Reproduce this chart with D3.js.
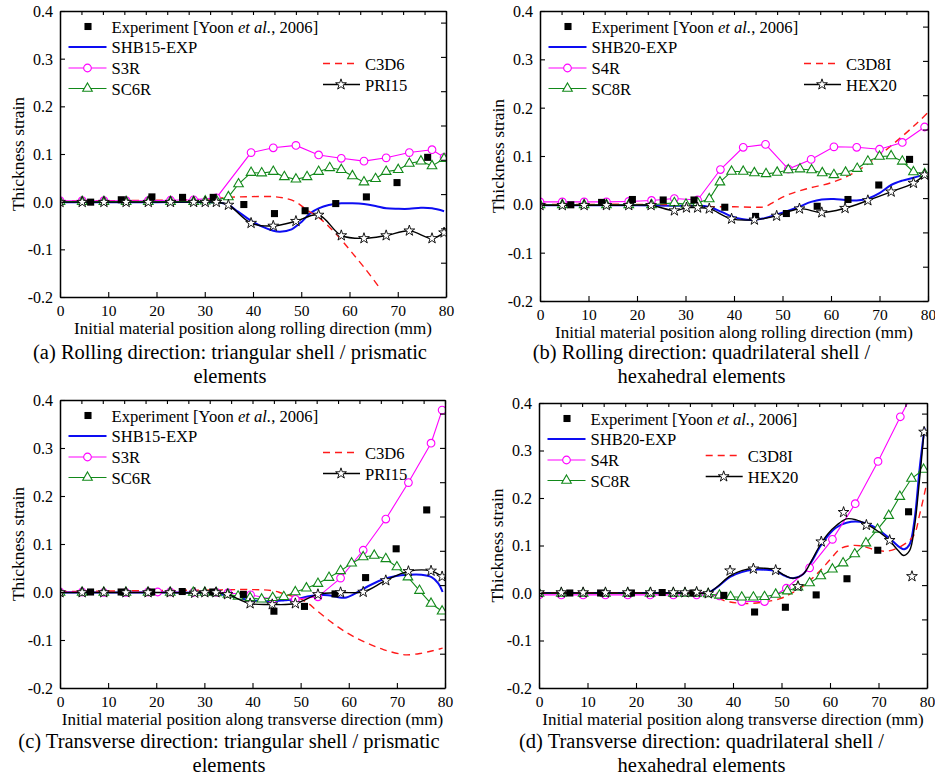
<!DOCTYPE html>
<html><head><meta charset="utf-8">
<script src="https://cdn.jsdelivr.net/npm/d3@7"></script>
<style>
body{margin:0;background:#fff}
svg{display:block}
text{font-family:"Liberation Serif","Times New Roman",serif;fill:#000}
</style>
</head><body>
<svg id="chart" width="935" height="778"></svg>
<script>
// ---------------- DATA ----------------
const xTicks = [0,10,20,30,40,50,60,70,80];
const yTicks = [-0.2,-0.1,0.0,0.1,0.2,0.3,0.4];

const expX = [6.35,12.7,19.05,25.4,31.75,38.1,44.45,50.8,57.15,63.5,69.85,76.2];
const expRolling = [-0.001,0.004,0.01,0.009,0.009,-0.006,-0.025,-0.019,-0.004,0.01,0.04,0.093];
const expTransverse = [0.0,0.0,0.0,0.001,0.0,-0.005,-0.04,-0.03,-0.004,0.03,0.09,0.171];

const namesTri = ["SHB15-EXP","S3R","SC6R","C3D6","PRI15"];
const namesQuad = ["SHB20-EXP","S4R","SC8R","C3D8I","HEX20"];
const expLabel = ["Experiment [Yoon ","et al.",", 2006]"];

// (a) rolling, triangular / prismatic
const a_SHB15 = [[0,-0.001],[10,-0.001],[20,-0.001],[30,-0.001],[33,-0.002],[34.9,-0.007],[36.9,-0.021],[39.6,-0.040],[41.8,-0.052],[44.2,-0.061],[45.6,-0.063],[48,-0.058],[50.1,-0.042],[51.9,-0.024],[53.6,-0.014],[55.7,-0.007],[58.3,-0.0035],[60.6,-0.0035],[63,-0.005],[65.4,-0.009],[67.6,-0.014],[70.1,-0.015],[72.4,-0.015],[74.8,-0.013],[77.1,-0.014],[79.6,-0.020]];
const a_S3R = [[0,0.002],[4.6,0.002],[9.1,0.002],[13.7,0.002],[18.3,0.002],[22.9,0.003],[27.7,0.004],[32.4,0.008],[39.6,0.103],[44.2,0.113],[48.9,0.118],[53.6,0.098],[58.3,0.091],[63.0,0.085],[67.6,0.092],[72.4,0.103],[77.1,0.109],[79.6,0.093]];
const a_SC6R = [[0,0],[4.6,0],[9.1,0],[13.7,0],[18.3,0],[22.9,0],[27.7,0],[30.1,0.001],[32.4,0.003],[34.9,0.01],[37.0,0.037],[39.6,0.061],[41.8,0.060],[44.2,0.063],[46.5,0.052],[48.9,0.047],[51.2,0.052],[53.6,0.063],[55.9,0.071],[58.3,0.067],[60.6,0.054],[63.0,0.041],[65.4,0.048],[67.6,0.063],[70.1,0.067],[72.4,0.080],[74.8,0.085],[77.1,0.075],[79.6,0.090]];
const a_C3D6 = [[0,0.001],[10,0.002],[20,0.003],[30,0.005],[34.9,0.009],[39.6,0.0105],[44.2,0.0105],[46.7,0.007],[48.75,0.0],[51.2,-0.0175],[53.6,-0.033],[55.7,-0.052],[58.3,-0.080],[60.6,-0.108],[63.2,-0.140],[66.1,-0.179]];
const a_PRI15 = [[0,-0.001],[4.6,-0.001],[9.1,-0.001],[13.7,-0.001],[18.3,-0.001],[22.9,-0.001],[27.7,-0.001],[30.1,-0.001],[32.4,-0.001],[34.9,-0.007],[39.6,-0.045],[44.2,-0.051],[48.9,-0.041],[53.6,-0.028],[58.3,-0.071],[63.0,-0.077],[67.6,-0.071],[72.4,-0.061],[77.1,-0.077],[79.6,-0.065]];

// (b) rolling, quadrilateral / hexahedral
const b_SHB20 = [[0,-0.002],[10,-0.002],[20,-0.002],[27,-0.003],[32,-0.003],[34.7,-0.005],[37.3,-0.015],[39.5,-0.025],[41.9,-0.031],[44.2,-0.032],[46.5,-0.028],[48.8,-0.021],[51.2,-0.013],[53.4,-0.005],[55.9,0.005],[58.1,0.010],[60.6,0.011],[62.9,0.009],[65.3,0.008],[67.7,0.012],[70.0,0.023],[72.4,0.040],[74.7,0.049],[77.0,0.055],[79.3,0.062]];
const b_S4R = [[0,0.005],[4.6,0.005],[9.1,0.005],[13.7,0.005],[18.3,0.006],[23,0.008],[27.7,0.012],[32.5,0.009],[37.2,0.072],[41.9,0.118],[46.5,0.124],[51.2,0.073],[55.9,0.093],[60.6,0.119],[65.3,0.118],[70.0,0.114],[74.7,0.128],[79.3,0.160]];
const b_SC8R = [[0,-0.001],[4.6,-0.001],[9.1,-0.001],[13.7,-0.001],[18.3,-0.001],[23,-0.001],[27.7,0.003],[30.1,0.0],[32.5,0.003],[34.9,0.011],[37.1,0.046],[39.5,0.068],[41.9,0.068],[44.2,0.065],[46.6,0.063],[48.9,0.066],[51.2,0.071],[53.6,0.073],[56.0,0.071],[58.2,0.065],[60.6,0.061],[63.0,0.066],[65.4,0.074],[67.6,0.089],[70.0,0.099],[72.4,0.100],[74.7,0.089],[77.0,0.067],[79.3,0.063]];
const b_C3D8I = [[0,0.0],[10,0.0],[20,0.0],[28,-0.001],[32,-0.003],[35,-0.005],[40,-0.005],[45,-0.006],[46.4,-0.005],[48.4,0.006],[51.2,0.02],[55.3,0.033],[60.1,0.045],[64.9,0.066],[69,0.094],[73.2,0.128],[77.3,0.164],[80,0.19]];
const b_HEX20 = [[0,-0.002],[4.6,-0.002],[9.1,-0.002],[13.7,-0.002],[18.3,-0.002],[22.9,-0.002],[27.7,-0.013],[30.2,-0.007],[32.5,-0.007],[34.9,-0.009],[39.5,-0.030],[44.2,-0.032],[48.8,-0.024],[53.5,-0.009],[58.1,-0.017],[62.9,-0.008],[67.6,0.008],[72.4,0.026],[77.0,0.044],[79.3,0.061]];

// (c) transverse, triangular / prismatic
const c_SHB15 = [[0,-0.001],[10,-0.001],[20,-0.001],[30,-0.002],[34.8,-0.007],[37,-0.012],[39.5,-0.017],[44.1,-0.019],[46.7,-0.017],[48.9,-0.015],[51.2,-0.010],[53.6,-0.006],[55.7,-0.007],[57.8,-0.011],[59.2,-0.012],[61.2,-0.004],[64,0.012],[66.8,0.025],[69.6,0.033],[72.4,0.036],[75.1,0.036],[77.2,0.031],[78.6,0.018],[79.5,0.0]];
const c_S3R = [[0,0],[4.6,0],[9.1,-0.001],[13.7,-0.001],[18.3,0],[20.3,0],[22.9,0],[27.7,-0.001],[32.5,-0.001],[34.9,-0.002],[39.6,-0.006],[44.2,-0.015],[48.9,-0.015],[53.6,-0.010],[58.3,0.029],[63.0,0.087],[67.7,0.152],[72.4,0.228],[77.1,0.310],[79.4,0.379]];
const c_SC6R = [[0,-0.001],[4.6,-0.001],[9.1,-0.001],[13.7,-0.001],[18.3,-0.001],[22.9,-0.001],[27.7,-0.001],[30.1,-0.001],[32.5,-0.002],[34.9,-0.005],[37.0,-0.009],[39.5,-0.012],[41.9,-0.015],[44.2,-0.012],[46.5,-0.010],[48.9,0.0],[51.2,0.008],[53.6,0.0175],[55.9,0.030],[58.3,0.044],[60.6,0.060],[63.0,0.073],[65.3,0.076],[67.7,0.069],[70.0,0.052],[72.3,0.031],[74.7,0.003],[77.1,-0.024],[79.4,-0.040]];
const c_C3D6 = [[0,0.001],[10,0.002],[20,0.003],[30,0.004],[40,0.005],[44,0.003],[46,-0.002],[48,-0.008],[49.9,-0.014],[51.6,-0.024],[53.3,-0.038],[56.8,-0.066],[60.3,-0.089],[63.7,-0.106],[67.2,-0.120],[70.6,-0.129],[72.0,-0.131],[74.8,-0.128],[77.6,-0.122],[79.5,-0.117]];
const c_PRI15 = [[0,-0.001],[4.6,-0.001],[9.1,-0.001],[13.7,-0.001],[18.3,-0.001],[22.9,-0.001],[28.0,-0.002],[30.1,-0.001],[32.4,-0.001],[34.8,-0.005],[39.5,-0.024],[44.1,-0.026],[48.9,-0.024],[53.6,-0.005],[58.3,-0.001],[63.0,0.0],[67.7,0.024],[72.4,0.043],[77.1,0.044],[79.4,0.032]];

// (d) transverse, quadrilateral / hexahedral
const d_SHB20 = [[0,0],[10,0],[20,0],[30,0],[34.9,0.001],[36.6,0.011],[39.4,0.034],[41.8,0.044],[44.2,0.049],[46.5,0.049],[48.8,0.046],[50.7,0.036],[52.4,0.031],[54.5,0.040],[56.2,0.066],[57.9,0.097],[59.6,0.121],[61.3,0.138],[63.4,0.148],[66.1,0.150],[68.8,0.141],[72.3,0.115],[74.4,0.096],[75.3,0.092],[76.4,0.102],[77.4,0.152],[78.5,0.264],[79.5,0.348]];
const d_S4R = [[0,-0.004],[4.6,-0.004],[9.1,-0.004],[13.7,-0.004],[18.3,-0.004],[22.9,-0.004],[27.7,-0.004],[32.5,-0.004],[37.2,-0.006],[41.8,-0.018],[46.5,-0.018],[51.0,0.010],[55.8,0.053],[60.5,0.113],[65.2,0.188],[69.9,0.277],[74.5,0.371],[79.3,0.464]];
const d_SC8R = [[0,-0.001],[4.6,-0.001],[9.1,-0.001],[13.7,-0.001],[18.3,-0.001],[22.9,-0.001],[27.7,-0.001],[30.1,-0.001],[32.5,-0.001],[34.9,-0.002],[37.2,-0.005],[39.5,-0.008],[41.8,-0.009],[44.2,-0.009],[46.5,-0.008],[48.8,-0.003],[51.2,0.004],[53.4,0.012],[55.8,0.021],[58.1,0.036],[60.5,0.050],[62.7,0.063],[65.1,0.082],[67.4,0.105],[69.8,0.134],[72.1,0.163],[74.4,0.203],[76.8,0.241],[79.3,0.260]];
const d_C3D8I = [[0,0],[10,0],[20,0],[30,0],[34.9,-0.002],[37.3,-0.013],[39.4,-0.019],[42.8,-0.022],[46.3,-0.019],[49.7,-0.012],[51.8,-0.002],[54.5,0.015],[57.3,0.040],[60,0.070],[62.1,0.093],[64.5,0.100],[66.5,0.099],[68.9,0.092],[71.7,0.088],[74.4,0.097],[77.2,0.120],[78.5,0.166],[79.9,0.229]];
const d_HEX20line = [[0,0],[10,0],[20,0],[30,0],[34.9,0.001],[36.6,0.012],[39.4,0.036],[41.8,0.047],[44.2,0.052],[46.5,0.052],[48.8,0.048],[50.7,0.037],[52.4,0.031],[54.5,0.040],[56.2,0.068],[57.9,0.100],[59.6,0.125],[61.3,0.142],[63.4,0.156],[65.4,0.154],[67.5,0.145],[70.2,0.128],[72.3,0.110],[74.0,0.090],[75.2,0.079],[76.4,0.089],[77.4,0.138],[78.5,0.243],[79.4,0.340]];
const d_HEX20marks = [[0,0.001],[4.6,0.001],[9.1,0.001],[13.7,0.001],[18.3,0.001],[23,0.001],[27.7,0.001],[30.1,0.001],[32.5,0.002],[34.9,-0.001],[39.4,0.047],[44.2,0.051],[48.8,0.048],[53.4,0.014],[58.2,0.108],[62.8,0.170],[67.5,0.143],[72.3,0.111],[76.9,0.035],[79.4,0.339]];

// ---------------- STYLE ----------------
const COL = {blue:"#0d0df2", mag:"#ff00ff", green:"#12891a", red:"#ff1a1a", black:"#000"};

const panels = [
  {key:"a", x0:60, x1:446, y0:11, y1:297, names:namesTri, exp:expRolling,
   shb:a_SHB15, sh:a_S3R, sc:a_SC6R, cd:a_C3D6, st:a_PRI15, stMarks:a_PRI15,
   rx:263, xtitle:"Initial material position along rolling direction (mm)",
   cap:["(a) Rolling direction: triangular shell / prismatic","elements"], capX:230, capY:358.5, xtY:333.5},
  {key:"b", x0:540, x1:928, y0:11, y1:301, names:namesQuad, exp:expRolling,
   shb:b_SHB20, sh:b_S4R, sc:b_SC8R, cd:b_C3D8I, st:b_HEX20, stMarks:b_HEX20,
   rx:264, xtitle:"Initial material position along rolling direction (mm)",
   cap:["(b) Rolling direction: quadrilateral shell /","hexahedral elements"], capX:701.5, capY:358.5, xtY:337.5},
  {key:"c", x0:60, x1:445, y0:400, y1:688, names:namesTri, exp:expTransverse,
   shb:c_SHB15, sh:c_S3R, sc:c_SC6R, cd:c_C3D6, st:c_PRI15, stMarks:c_PRI15,
   rx:263, xtitle:"Initial material position along transverse direction (mm)",
   cap:["(c) Transverse direction: triangular shell / prismatic","elements"], capX:229, capY:747.5, xtY:724.5},
  {key:"d", x0:539, x1:927, y0:403, y1:688, names:namesQuad, exp:expTransverse,
   shb:d_SHB20, sh:d_S4R, sc:d_SC8R, cd:d_C3D8I, st:d_HEX20line, stMarks:d_HEX20marks,
   rx:166.7, xtitle:"Initial material position along transverse direction (mm)",
   cap:["(d) Transverse direction: quadrilateral shell /","hexahedral elements"], capX:701.5, capY:747.5, xtY:724.5}
];

const svg = d3.select("#chart");
svg.append("rect").attr("width",935).attr("height",778).attr("fill","#fff");
const defs = svg.append("defs");

const sym = {
  square: d3.symbol().type(d3.symbolSquare).size(50),
  circle: d3.symbol().type(d3.symbolCircle).size(46),
  tri: d3.symbol().type(d3.symbolTriangle).size(40),
  star: d3.symbol().type(d3.symbolStar).size(36)
};

function drawMarks(g, data, x, y, shape, stroke, fill, sw){
  g.selectAll(null).data(data).enter().append("path")
    .attr("d", sym[shape]())
    .attr("transform", d => `translate(${x(d[0])},${y(d[1])})`)
    .attr("fill", fill).attr("stroke", stroke).attr("stroke-width", sw);
}

function drawPanel(p){
  const x = d3.scaleLinear().domain([0,80]).range([p.x0,p.x1]);
  const y = d3.scaleLinear().domain([-0.2,0.4]).range([p.y1,p.y0]);
  const g = svg.append("g");

  defs.append("clipPath").attr("id","clip-"+p.key).append("rect")
    .attr("x",p.x0).attr("y",p.y0).attr("width",p.x1-p.x0).attr("height",p.y1-p.y0);
  const plot = g.append("g").attr("clip-path",`url(#clip-${p.key})`);

  const smooth = d3.line().x(d=>x(d[0])).y(d=>y(d[1])).curve(d3.curveCatmullRom.alpha(0.5));
  const straight = d3.line().x(d=>x(d[0])).y(d=>y(d[1]));

  plot.append("path").attr("d", smooth(p.shb)).attr("fill","none").attr("stroke",COL.blue).attr("stroke-width",2);
  plot.append("path").attr("d", smooth(p.cd)).attr("fill","none").attr("stroke",COL.red).attr("stroke-width",1.4).attr("stroke-dasharray","7,5");
  plot.append("path").attr("d", straight(p.sh)).attr("fill","none").attr("stroke",COL.mag).attr("stroke-width",1.1);
  drawMarks(plot, p.sh, x, y, "circle", COL.mag, "#fff", 1.1);
  plot.append("path").attr("d", straight(p.sc)).attr("fill","none").attr("stroke",COL.green).attr("stroke-width",1.1);
  drawMarks(plot, p.sc, x, y, "tri", COL.green, "#fff", 1.1);
  plot.append("path").attr("d", smooth(p.st)).attr("fill","none").attr("stroke",COL.black).attr("stroke-width",1.4);
  drawMarks(plot, d3.zip(expX, p.exp), x, y, "square", "#000", "#000", 0);
  drawMarks(plot, p.stMarks, x, y, "star", "#000", "#fff", 0.9);

  // Axes
  const fmtY = d => d.toFixed(1);
  const gb = g.append("g").attr("transform",`translate(0,${p.y1})`)
    .call(d3.axisBottom(x).tickValues(xTicks).tickSize(-5).tickSizeOuter(0).tickFormat(d3.format("d")));
  gb.selectAll("text").attr("y",18.5).attr("dy",null).attr("font-size",15.5);
  const gl = g.append("g").attr("transform",`translate(${p.x0},0)`)
    .call(d3.axisLeft(y).tickValues(yTicks).tickSize(-5).tickSizeOuter(0).tickPadding(7).tickFormat(fmtY));
  gl.selectAll("text").attr("font-size",16).attr("dy","0.34em");
  const xTop = d3.scaleLinear().domain([0,18]).range([p.x0,p.x1]);
  g.append("g").attr("transform",`translate(0,${p.y0})`)
    .call(d3.axisTop(xTop).tickValues(d3.range(0,19)).tickSize(-4).tickSizeOuter(0).tickFormat(""));
  const nR = (p.y1-p.y0)/34.3;
  const yR = d3.scaleLinear().domain([0,nR]).range([p.y1,p.y0]);
  g.append("g").attr("transform",`translate(${p.x1},0)`)
    .call(d3.axisRight(yR).tickValues(d3.range(0,Math.floor(nR)+1)).tickSize(-5).tickSizeOuter(0).tickFormat(""));
  g.selectAll(".domain").attr("stroke","#000").attr("stroke-width",1.5);
  g.selectAll(".tick line").attr("stroke","#000").attr("stroke-width",1.1);
  g.selectAll("g").attr("font-family",null);

  // Axis titles
  g.append("text").attr("x",(p.x0+p.x1)/2).attr("y",p.xtY).attr("text-anchor","middle")
    .attr("font-size",17).text(p.xtitle);
  const ytx = p.x0-35.7, yty = (p.y0+p.y1)/2;
  g.append("text").attr("transform",`translate(${ytx},${yty}) rotate(-90)`).attr("text-anchor","middle")
    .attr("font-size",17.5).text("Thickness strain");

  // Caption
  p.cap.forEach((line,i)=>{
    g.append("text").attr("x",p.capX).attr("y",p.capY+i*24.4).attr("text-anchor","middle")
      .attr("font-size",20.5).text(line);
  });

  // Legend
  const lg = g.append("g");
  const rows = [15.5,36,57,77.5].map(v=>p.y0+v);
  const lx = p.x0;
  const fs = 16.6;
  drawMarks(lg, [[0,0]], v=>lx+28, v=>rows[0], "square", "#000", "#000", 0);
  const t0 = lg.append("text").attr("x",lx+51.5).attr("y",rows[0]+6).attr("font-size",fs);
  t0.append("tspan").text(expLabel[0]);
  t0.append("tspan").attr("font-style","italic").text(expLabel[1]);
  t0.append("tspan").text(expLabel[2]);
  const legItems = [
    {row:rows[1], color:COL.blue, w:2, name:p.names[0], shape:null},
    {row:rows[2], color:COL.mag, w:1.1, name:p.names[1], shape:"circle"},
    {row:rows[3], color:COL.green, w:1.1, name:p.names[2], shape:"tri"}
  ];
  legItems.forEach(it=>{
    lg.append("line").attr("x1",lx+8.5).attr("x2",lx+46.5).attr("y1",it.row).attr("y2",it.row)
      .attr("stroke",it.color).attr("stroke-width",it.w);
    if(it.shape) drawMarks(lg, [[0,0]], v=>lx+27.5, v=>it.row, it.shape, it.color, "#fff", 1.1);
    lg.append("text").attr("x",lx+51.5).attr("y",it.row+6).attr("font-size",fs).text(it.name);
  });
  const rx = p.x0+p.rx;
  const r1 = p.y0+52.5, r2 = p.y0+73.5;
  lg.append("line").attr("x1",rx).attr("x2",rx+35).attr("y1",r1).attr("y2",r1)
    .attr("stroke",COL.red).attr("stroke-width",1.4).attr("stroke-dasharray","7,5");
  lg.append("text").attr("x",rx+42).attr("y",r1+6).attr("font-size",fs).text(p.names[3]);
  lg.append("line").attr("x1",rx).attr("x2",rx+37).attr("y1",r2).attr("y2",r2)
    .attr("stroke","#000").attr("stroke-width",1.4);
  drawMarks(lg, [[0,0]], v=>rx+18, v=>r2, "star", "#000", "#fff", 0.9);
  lg.append("text").attr("x",rx+42).attr("y",r2+6).attr("font-size",fs).text(p.names[4]);
}

panels.forEach(drawPanel);
</script>
</body></html>
